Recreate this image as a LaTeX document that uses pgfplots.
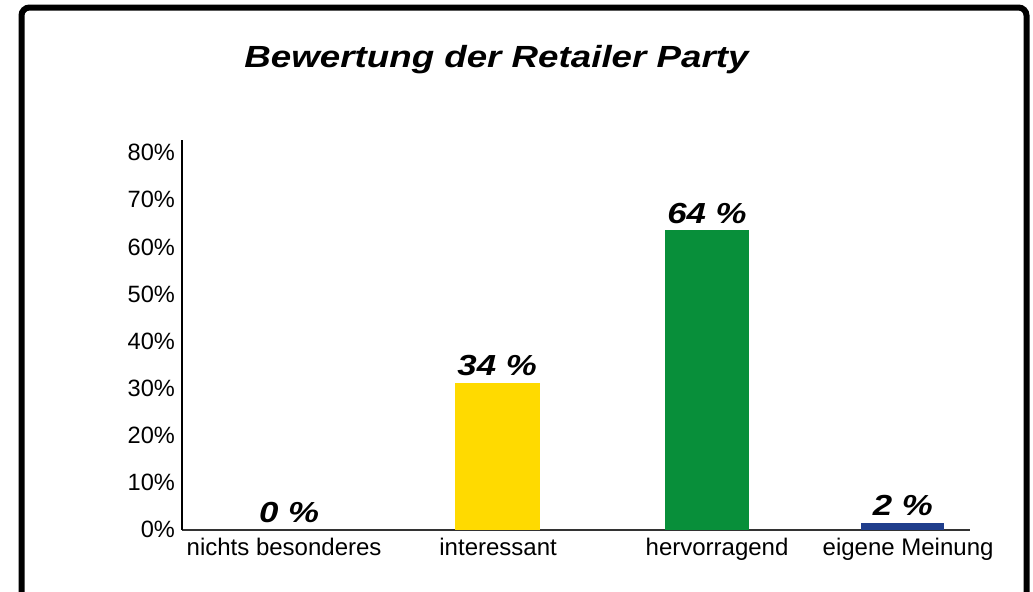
\documentclass[border=0pt]{standalone}
\usepackage{fontspec}
\setmainfont{Liberation Sans}
\newfontfamily\widefont{Liberation Sans}[FakeStretch=1.2]
\usepackage{pgfplots}
\pgfplotsset{compat=1.18}
\definecolor{cyel}{RGB}{255,218,0}
\definecolor{cgrn}{RGB}{8,143,58}
\definecolor{cblu}{RGB}{32,62,140}
\begin{document}
\begin{tikzpicture}[x=1pt,y=1pt]
\draw[line width=3pt, rounded corners=4pt] (10.75,-20) -- (10.75,291.75) -- (513.25,291.75) -- (513.25,-20);
\node[anchor=base, inner sep=0pt, font=\widefont\bfseries\itshape\fontsize{15.3}{17}\selectfont] at (248.25,262) {Bewertung der Retailer Party};
\begin{axis}[
  at={(91pt,30.75pt)}, anchor=south west, scale only axis,
  width=394pt, height=194.75pt,
  xmin=-0.522, xmax=3.322, ymin=0, ymax=82.7,
  axis x line=bottom, axis y line=left,
  x axis line style={-, line width=1pt, draw=black!80},
  y axis line style={-, line width=0.6pt, draw=black},
  major tick length=0pt,
  ytick={0,10,20,30,40,50,60,70,80},
  yticklabels={0\%,10\%,20\%,30\%,40\%,50\%,60\%,70\%,80\%},
  xtick={-0.024,1.02,2.088,3.02},
  xticklabels={nichts besonderes, interessant, hervorragend, eigene Meinung},
  yticklabel style={font=\fontsize{11.8}{13}\selectfont},
  xticklabel style={font=\fontsize{12}{14}\selectfont, yshift=-1pt},
  nodes near coords style={font=\widefont\bfseries\itshape\fontsize{14.5}{16}\selectfont, anchor=south},
  clip=false,
]
\addplot[ybar, bar width=42.5pt, bar shift=0pt, draw=none, fill=none, nodes near coords, point meta=explicit symbolic] coordinates {(0,0) [0 \%]};
\addplot[ybar, bar width=42.5pt, bar shift=0pt, draw=none, fill=cyel, nodes near coords, point meta=explicit symbolic] coordinates {(1.015,31.2) [34 \%]};
\addplot[ybar, bar width=42pt, bar shift=0pt, draw=none, fill=cgrn, nodes near coords, point meta=explicit symbolic] coordinates {(2.039,63.5) [64 \%]};
\addplot[ybar, bar width=41.5pt, bar shift=0pt, draw=none, fill=cblu, nodes near coords, point meta=explicit symbolic] coordinates {(2.995,1.4) [2 \%]};
\end{axis}
\pgfresetboundingbox
\useasboundingbox (0,0) rectangle (516.5,295.5);
\end{tikzpicture}
\end{document}
